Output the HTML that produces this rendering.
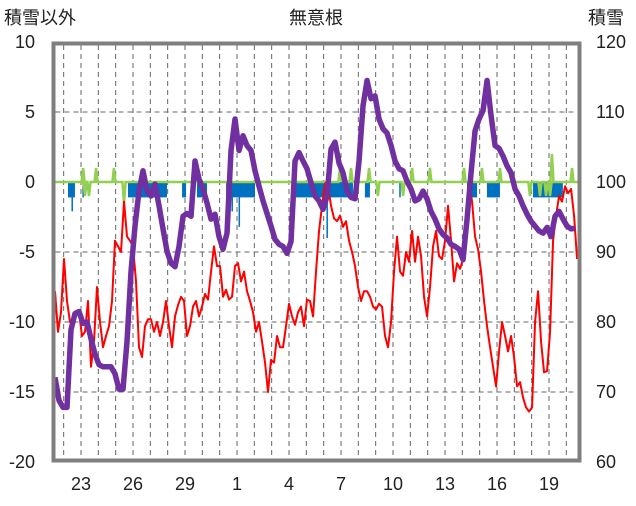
<!DOCTYPE html>
<html><head><meta charset="utf-8"><style>
html,body{margin:0;padding:0;background:#fff;}
svg text{font-family:"Liberation Sans","Noto Sans CJK JP",sans-serif;font-size:18px;fill:#222;}
</style></head><body>
<svg id="chart" width="636" height="501" viewBox="0 0 636 501" xmlns="http://www.w3.org/2000/svg">
<text x="4" y="24">積雪以外</text>
<text x="316" y="24" text-anchor="middle">無意根</text>
<text x="588" y="24">積雪</text>
<g id="grid"></g>
<g id="marks"></g>
<rect x="53.5" y="43.5" width="526" height="417" fill="none" stroke="#7f7f7f" stroke-width="4"/>
<g id="ticks"></g>
</svg>
<script>
const leftTicks=[10,5,0,-5,-10,-15,-20];
const rightTicks=[120,110,100,90,80,70,60];
const dayTickOffsets=[0,3,6,9,12,15,18,21,24,27];
const dayTickLabels=["23","26","29","1","4","7","10","13","16","19"];
const redStart=-1.5, redStep=0.1731;
const redValues=[-7.8,-10.7,-9.3,-5.5,-8.5,-10,-9.8,-9.5,-9.3,-11,-10.7,-8.5,-13.2,-11.4,-7.5,-10,-11.8,-11,-10.3,-8.5,-4.2,-4.6,-5,-1.4,-3.9,-4.2,-4.6,-7.1,-11.8,-12.5,-10.3,-9.8,-9.8,-10.7,-10,-11,-10,-8.5,-10.3,-11.8,-9.6,-8.8,-8.2,-8.5,-11,-10.3,-8.9,-8.5,-9.6,-8.9,-8,-8.4,-6.4,-4.6,-6,-6,-8.2,-7.7,-8.4,-8.2,-6,-5.8,-7.1,-6.4,-7.8,-8.5,-9.3,-10.7,-10,-11.4,-12.9,-15,-12.7,-12.9,-11,-11.8,-11.8,-10.3,-8.7,-9.6,-10.2,-9.3,-8.9,-10.3,-8.4,-8.5,-9.6,-6.4,-3.5,-1.7,-0.1,-0.3,-1.7,-2.6,-2.8,-2.4,-3.2,-2.8,-4.2,-5,-6,-7.5,-8.5,-7.8,-7.8,-8.2,-8.9,-9.1,-8.7,-8.9,-11,-11.8,-10,-6.4,-3.9,-6.4,-6.7,-5,-5.7,-3.5,-5.7,-3.9,-5.3,-8.2,-9.6,-7.5,-4.6,-3.5,-5.3,-5.5,-4.2,-1.7,-4.2,-7.1,-5.8,-6.2,-5.5,-3.5,0.1,-1.4,-3.9,-4.8,-6.4,-8.5,-10.3,-11.8,-13.2,-14.6,-12.1,-10,-11,-12.1,-11,-12.5,-14.6,-14.3,-15.4,-16.1,-16.4,-16.1,-10,-7.8,-11.4,-13.6,-13.5,-10.7,-4.2,-2.4,-1,-1.4,-0.3,-0.8,-0.5,-2.4,-5.5];
const snowStart=-1.5, snowStep=0.2308;
const snowValues=[72.1,68.8,67.8,67.8,78.9,81.2,81.5,79.8,80,77.6,75.4,73.9,73.6,73.6,73.6,72.6,70.4,70.4,77.2,87.2,93.7,98.7,101.6,98.7,98,99.7,96.6,93.3,90.1,88.4,87.9,90.8,95.1,95.5,95.1,103,100.4,99,97,94.7,95.4,92.2,90.4,92.7,104.5,109,104.5,106.6,105.2,104.5,101.6,99.4,97.3,95.5,93.7,91.8,91.1,90.8,89.8,91.5,103,104.2,103,101.9,99.9,98,97.3,96.1,98,104.7,105.7,102.7,101.3,98.7,97.8,97.6,103,110.9,114.5,111.9,112.3,109,107.6,107,105.2,103,101.9,101.6,100.1,99,97.3,97.6,98.7,97.6,95.8,94.7,93.3,92.5,92,91.1,90.8,90.4,88.9,94.7,101.3,107.3,109,110.2,114.5,109.5,105.2,104.8,103.7,102.3,101.3,99,98,96.6,95.4,94.4,93.7,93,92.7,93.5,92.2,95.1,95.8,94.7,93.7,93.3,93.4];
const blueSegments=[[-0.75,-0.35,-1.1],[-0.55,-0.48,-2.1],[0.08,0.16,-1.1],[2.71,4.96,-1.1],[3.2,3.27,-2.1],[5.83,6.06,-1.1],[6.69,7.27,-1.1],[8.37,10.04,-1.1],[8.68,8.75,-2.1],[9.09,9.16,-3.2],[12.35,15.69,-1.1],[14.16,14.23,-4],[16.38,16.67,-1.1],[18.36,18.44,-1.1],[22.27,22.85,-1.1],[23.42,24.17,-1.1],[26.08,27.8,-1.1]];
const greenDays=[0.12,0.23,0.46,0.87,1.9,2.48,14.94,15.12,15.58,16.62,17.13,18.58,19.1,20.13,22.1,23.13,24.17,25.9,26.48,26.83,27.06,27.17,28.33];
const greenValues=[1,-1,-1,1,1,-1.5,1,1,1,1,-1,-1,1,1,1,1,1,-1,-1,-1,-1,2,1];

const NS="http://www.w3.org/2000/svg";
const X0=81, PXD=17.333, Y0=182, PXU=14, L=55.5, R=577.5, T=45, B=459;
const xS=d=>X0+d*PXD;
const yL=v=>Y0-v*PXU;
const yR=v=>Y0-(v-100)/2*PXU;
function mk(tag,attrs,parent){const e=document.createElementNS(NS,tag);for(const k in attrs)e.setAttribute(k,attrs[k]);parent.appendChild(e);return e;}
const grid=document.getElementById('grid'),marks=document.getElementById('marks'),ticks=document.getElementById('ticks');
for(let d=-1;d<=28;d++){const x=xS(d);if(x<L||x>R)continue;
 const g=mk('line',{x1:x,x2:x,y1:T,y2:B,stroke:'#666','stroke-width':1,'stroke-dasharray':'5,4'},grid);
 
 }
leftTicks.forEach((v,i)=>{const y=yL(v);
 if(v<10&&v>-20){const g=mk('line',{x1:L,x2:R,y1:y,y2:y,stroke:'#666','stroke-width':1,'stroke-dasharray':'5,4'},grid);
 
 }
 const t=mk('text',{x:35,y:y+6,'text-anchor':'end'},ticks);t.textContent=v;
 
 
 const t2=mk('text',{x:596,y:yR(rightTicks[i])+6},ticks);t2.textContent=rightTicks[i];
 
 });
dayTickOffsets.forEach((d,i)=>{const t=mk('text',{x:xS(d),y:490,'text-anchor':'middle'},ticks);t.textContent=dayTickLabels[i];
 
 });
blueSegments.forEach(s=>{const x1=xS(s[0]),x2=xS(s[1]);
 const r=mk('rect',{x:x1,y:yL(0),width:Math.max(1.5,x2-x1),height:yL(s[2])-yL(0),fill:'#0070c0'},marks);
 
 });
let gp=[[xS(-1.5),yL(0)]];
greenDays.forEach((d,i)=>{gp.push([xS(d-0.09),yL(0)],[xS(d),yL(greenValues[i])],[xS(d+0.09),yL(0)]);});
gp.push([xS(28.7),yL(0)]);
const gl=mk('polyline',{points:gp.map(p=>p.join(',')).join(' '),fill:'none',stroke:'#92d050','stroke-width':2.5},marks);


const rl=mk('polyline',{points:redValues.map((v,i)=>xS(redStart+i*redStep)+','+yL(v)).join(' '),fill:'none',stroke:'#ff0000','stroke-width':2,'stroke-linejoin':'round'},marks);


const pl=mk('polyline',{points:snowValues.map((v,i)=>xS(snowStart+i*snowStep)+','+yR(v)).join(' '),fill:'none',stroke:'#7030a0','stroke-width':5.5,'stroke-linejoin':'round'},marks);


</script>
</body></html>
